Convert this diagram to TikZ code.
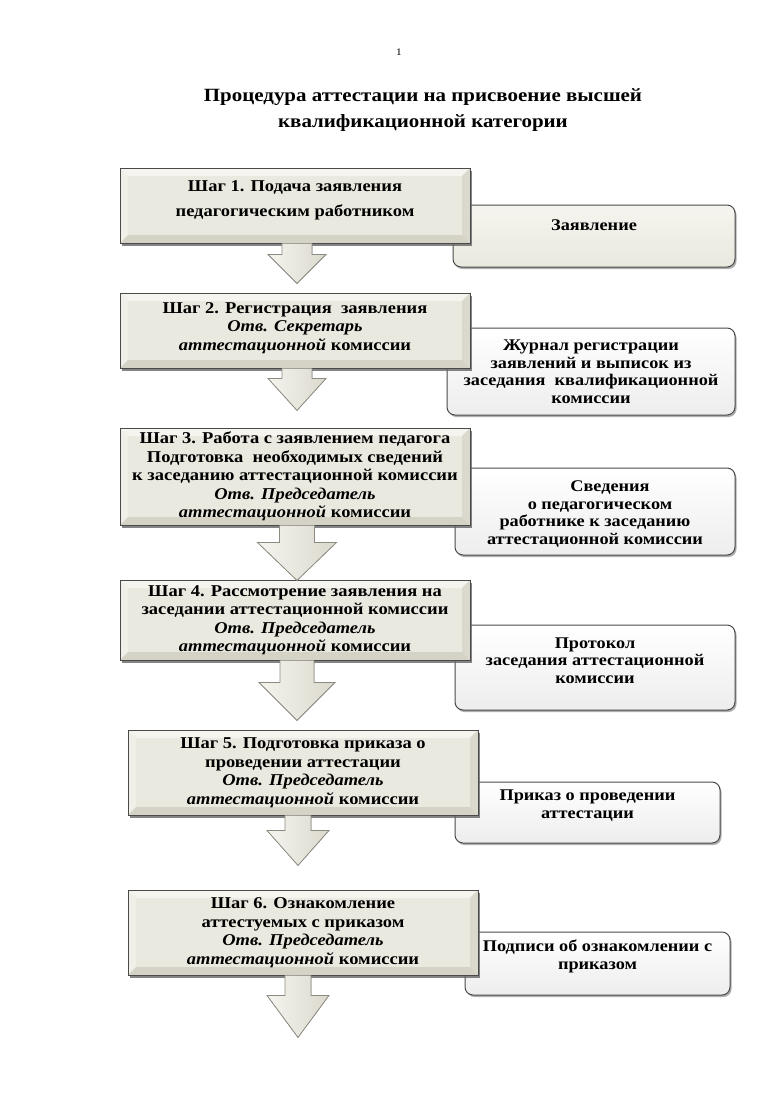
\documentclass[tikz,border=0pt]{standalone}
\usepackage{fontspec}
\setmainfont{Liberation Serif}[FakeStretch=1.12]
\usetikzlibrary{calc,shadows}
\definecolor{face}{HTML}{EAE9DF}
\definecolor{bevtop}{HTML}{F5F4EE}
\definecolor{bevleft}{HTML}{F1F0E8}
\definecolor{bevright}{HTML}{DBD9CD}
\definecolor{bevbot}{HTML}{D5D3C6}
\definecolor{edge}{HTML}{4A4A4A}
\definecolor{arrline}{HTML}{8C8B82}
\newcommand\bv{8pt}
\newcommand\barrow[6]{% node, dx, shaft hw, head hw, head top, tip
  \filldraw[blockarrow] ($(#1.south)+(#2-#3,0)$) -- ($(#1.south)+(#2-#3,#5)$)
    -- ($(#1.south)+(#2-#4,#5)$) -- ($(#1.south)+(#2,#6)$)
    -- ($(#1.south)+(#2+#4,#5)$) -- ($(#1.south)+(#2+#3,#5)$)
    -- ($(#1.south)+(#2+#3,0)$);}
\tikzset{
  stepbox/.style={rectangle, draw=edge, line width=0.9pt, fill=face, align=center,
    font=\bfseries\fontsize{16.5}{18.5}\selectfont, inner sep=0pt,
    drop shadow={shadow xshift=2pt, shadow yshift=-2.5pt, fill=black!60, opacity=0.8},
    path picture={
      \path (path picture bounding box.north west) coordinate (pnw)
            (path picture bounding box.north east) coordinate (pne)
            (path picture bounding box.south west) coordinate (psw)
            (path picture bounding box.south east) coordinate (pse);
      \fill[bevtop] (pnw) -- (pne) -- ([xshift=-\bv,yshift=-\bv]pne) -- ([xshift=\bv,yshift=-\bv]pnw) -- cycle;
      \fill[bevleft] (pnw) -- (psw) -- ([xshift=\bv,yshift=\bv]psw) -- ([xshift=\bv,yshift=-\bv]pnw) -- cycle;
      \fill[bevright] (pne) -- (pse) -- ([xshift=-\bv,yshift=\bv]pse) -- ([xshift=-\bv,yshift=-\bv]pne) -- cycle;
      \fill[bevbot] (psw) -- (pse) -- ([xshift=-\bv,yshift=\bv]pse) -- ([xshift=\bv,yshift=\bv]psw) -- cycle;
    }},
  docbox/.style={rectangle, rounded corners=8pt, draw=edge, line width=1pt,
    top color=white, bottom color=black!7,
    drop shadow={shadow xshift=1.5pt, shadow yshift=-2pt, fill=black!45, opacity=0.7}},
  doctext/.style={align=center, font=\bfseries\fontsize{16.3}{17.5}\selectfont, inner sep=0pt},
  blockarrow/.style={draw=arrline, line width=0.8pt, left color=bevtop, right color=bevright}
}
\begin{document}
\begin{tikzpicture}[x=1pt,y=-1pt]
\useasboundingbox[fill=white] (0,0) rectangle (772,1093);

\node (pn) at (399,52) {\fontsize{10}{12}\selectfont 1};
\node[align=center, font=\bfseries\fontsize{18.7}{26}\selectfont] (title) at (423,110)
  {Процедура аттестации на присвоение высшей\\квалификационной категории};

% documents (behind)
\node[docbox, top color=bevtop, bottom color=face, minimum width=282, minimum height=62] (d1) at (594,236) {};
\node[doctext] at (d1.center) [yshift=11pt] {Заявление};
\node[docbox, minimum width=288, minimum height=87] (d2) at (591,371.5) {};
\node[doctext] at (d2.center) {Журнал регистрации\\заявлений и выписок из\\заседания\ \ квалификационной\\комиссии};
\node[docbox, minimum width=280, minimum height=87] (d3) at (595,511.5) {};
\node[doctext] at (d3.center) [yshift=-2.5pt] {\hspace*{30pt}Сведения\\\hspace*{10pt}о педагогическом\\работнике к заседанию\\аттестационной комиссии};
\node[docbox, minimum width=280, minimum height=85] (d4) at (595,667.5) {};
\node[doctext] at (d4.center) [yshift=7pt] {Протокол\\заседания аттестационной\\комиссии};
\node[docbox, minimum width=265, minimum height=61] (d5) at (587.5,812.5) {};
\node[doctext] at (d5.center) [yshift=7pt] {Приказ о проведении\\аттестации};
\node[docbox, minimum width=265, minimum height=63] (d6) at (597.5,963.5) {};
\node[doctext] at (d6.center) [yshift=7pt] {Подписи об ознакомлении с\\приказом};

% steps
\node[stepbox, minimum width=350, minimum height=75] (s1) at (295,205.5)
  {Шаг 1. Подача заявления\\[6.5pt]педагогическим работником\\[-4.5pt]};
\node[stepbox, minimum width=350, minimum height=75] (s2) at (295,330.5)
  {Шаг 2. Регистрация\ \ заявления\\\textit{Отв. Секретарь}\\\textit{аттестационной} комиссии\\[-10.5pt]};
\node[stepbox, minimum width=350, minimum height=97] (s3) at (295,476.5)
  {Шаг 3. Работа с заявлением педагога\\Подготовка\ \ необходимых сведений\\к заседанию аттестационной комиссии\\\textit{Отв. Председатель}\\\textit{аттестационной} комиссии};
\node[stepbox, minimum width=350, minimum height=80] (s4) at (295,620)
  {Шаг 4. Рассмотрение заявления на\\заседании аттестационной комиссии\\\textit{Отв. Председатель}\\\textit{аттестационной} комиссии};
\node[stepbox, minimum width=350, minimum height=85] (s5) at (303,772.5)
  {Шаг 5. Подготовка приказа о\\проведении аттестации\\\textit{Отв. Председатель}\\\textit{аттестационной} комиссии};
\node[stepbox, minimum width=350, minimum height=85] (s6) at (303,932.5)
  {Шаг 6. Ознакомление\\аттестуемых с приказом\\\textit{Отв. Председатель}\\\textit{аттестационной} комиссии};

% arrows
\barrow{s1}{2}{15}{29}{11}{40}
\barrow{s2}{2}{15}{29}{10}{42}
\barrow{s3}{2}{17.5}{39.5}{17}{55}
\barrow{s4}{2}{17}{38}{22}{60}
\barrow{s5}{-5}{13}{31}{15}{50}
\barrow{s6}{-5}{13}{31}{20}{62}
\end{tikzpicture}
\end{document}
